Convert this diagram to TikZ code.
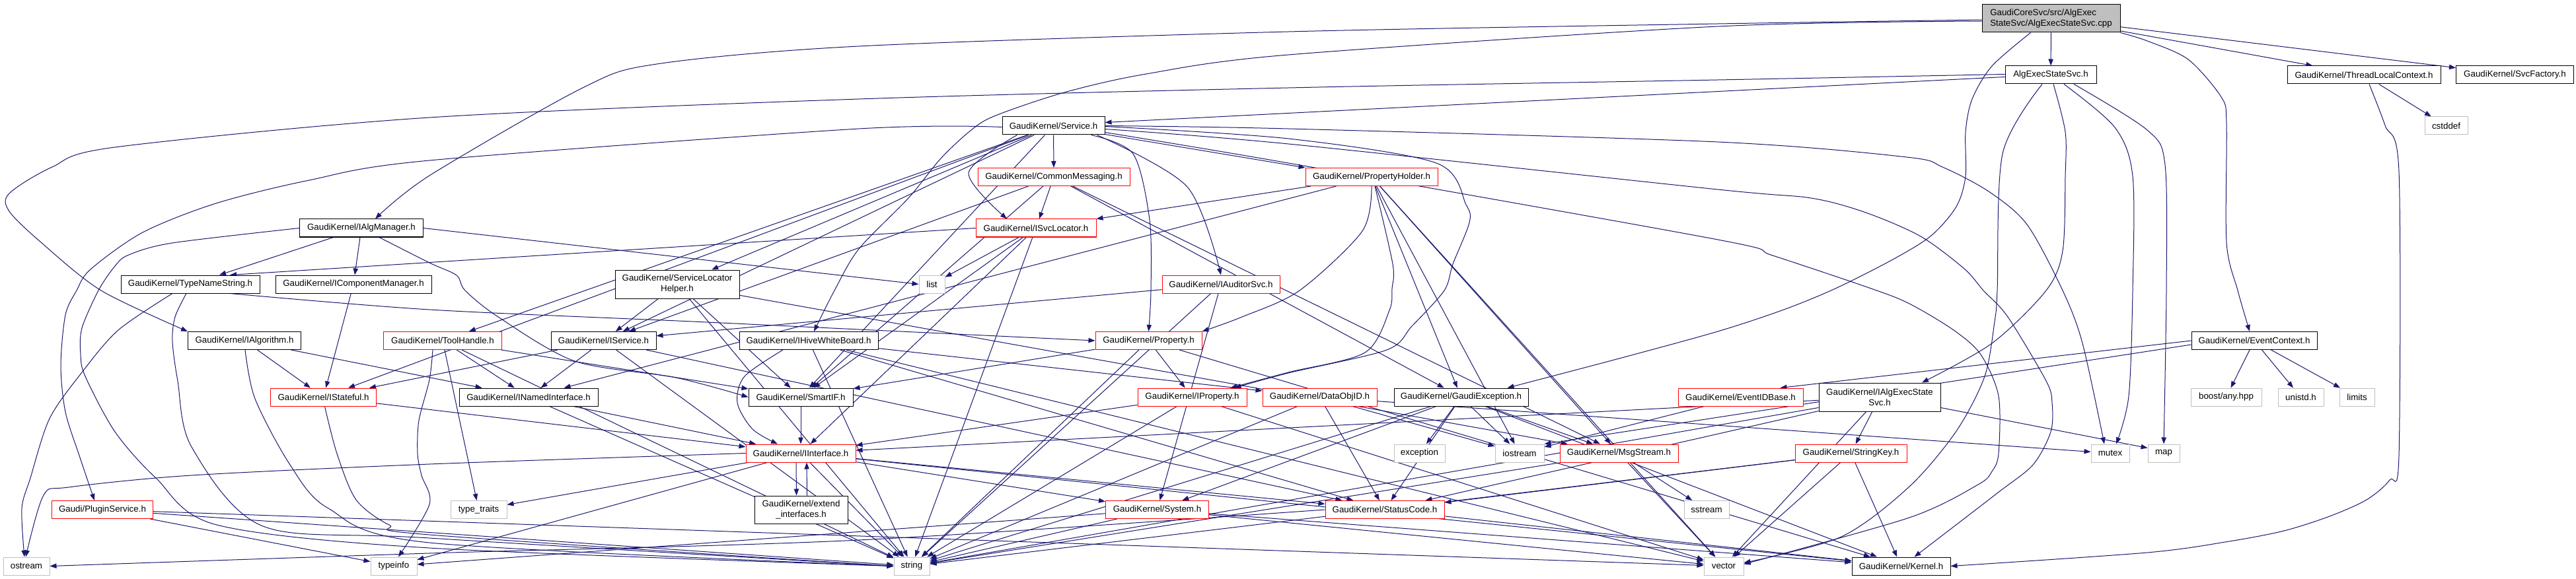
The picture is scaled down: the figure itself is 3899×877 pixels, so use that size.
\documentclass[tikz,border=0pt]{standalone}
\usepackage{fontspec}
\setmainfont{Liberation Sans}
\usetikzlibrary{arrows.meta}
\definecolor{edgec}{HTML}{191970}
\definecolor{grayb}{HTML}{BFBFBF}
\pgfdeclarelayer{bg}
\pgfsetlayers{bg,main}
\begin{document}
\begin{tikzpicture}[x=0.75pt,y=-0.75pt,
  base/.style={draw, line width=0.75pt, fill=white, inner sep=0pt, minimum height=20.25pt, font=\fontsize{10}{12}\selectfont, text=black},
  w/.style={minimum width=#1*0.75pt},
  tall/.style={minimum height=#1*0.75pt},
  blk/.style={base, draw=black},
  redb/.style={base, draw=red},
  gry/.style={base, draw=grayb},
  rootb/.style={base, draw=black, fill=grayb},
  e/.style={draw=edgec, line width=0.75pt, -{Triangle[length=7.5pt,width=5.5pt]}},
]
\useasboundingbox (0,0) rectangle (3899,877);
% nodes
\node[rootb,w=209,tall=42,align=left] (root) at (3104.5,28) {GaudiCoreSvc/src/AlgExec\\StateSvc/AlgExecStateSvc.cpp};
\node[blk,w=138] (aesh) at (3104,113.5) {AlgExecStateSvc.h};
\node[blk,w=232] (tlc) at (3578,113.5) {GaudiKernel/ThreadLocalContext.h};
\node[blk,w=178] (svcf) at (3806.5,113.5) {GaudiKernel/SvcFactory.h};
\node[gry,w=65] (cstddef) at (3702.5,190.5) {cstddef};
\node[blk,w=155] (svc) at (1594.5,190.5) {GaudiKernel/Service.h};
\node[redb,w=230] (cmsg) at (1595,268) {GaudiKernel/CommonMessaging.h};
\node[redb,w=200] (ph) at (2076,268) {GaudiKernel/PropertyHolder.h};
\node[redb,w=182] (isl) at (1568,345.5) {GaudiKernel/ISvcLocator.h};
\node[gry,w=39] (list) at (1410.5,430.5) {list};
\node[redb,w=178] (iaud) at (1848,430.5) {GaudiKernel/IAuditorSvc.h};
\node[blk,w=187] (ialm) at (547,345.5) {GaudiKernel/IAlgManager.h};
\node[blk,w=210] (tns) at (288,430.5) {GaudiKernel/TypeNameString.h};
\node[blk,w=236] (icm) at (535,430.5) {GaudiKernel/IComponentManager.h};
\node[blk,w=188,tall=43,align=center] (slh) at (1025,430.5) {GaudiKernel/ServiceLocator\\Helper.h};
\node[blk,w=171] (ialg) at (370,516) {GaudiKernel/IAlgorithm.h};
\node[redb,w=179] (th) at (670,516) {GaudiKernel/ToolHandle.h};
\node[blk,w=159] (isv) at (913.5,516) {GaudiKernel/IService.h};
\node[blk,w=210] (ihwb) at (1224,516) {GaudiKernel/IHiveWhiteBoard.h};
\node[redb,w=161] (prop) at (1738.5,516) {GaudiKernel/Property.h};
\node[redb,w=160] (ist) at (489.5,601.5) {GaudiKernel/IStateful.h};
\node[blk,w=210] (ini) at (800,601.5) {GaudiKernel/INamedInterface.h};
\node[blk,w=158] (sif) at (1212,601.5) {GaudiKernel/SmartIF.h};
\node[redb,w=165] (iprop) at (1804.5,601.5) {GaudiKernel/IProperty.h};
\node[redb,w=173] (doi) at (1997.5,601.5) {GaudiKernel/DataObjID.h};
\node[blk,w=203] (gex) at (2211.5,601.5) {GaudiKernel/GaudiException.h};
\node[redb,w=189] (eib) at (2634.5,601.5) {GaudiKernel/EventIDBase.h};
\node[blk,w=184,tall=43,align=center] (iaes) at (2845,601.5) {GaudiKernel/IAlgExecState\\Svc.h};
\node[blk,w=190] (ec) at (3412,516) {GaudiKernel/EventContext.h};
\node[gry,w=107] (boost) at (3369.5,601.5) {boost/any.hpp};
\node[gry,w=69] (unistd) at (3482.5,601.5) {unistd.h};
\node[gry,w=53] (limits) at (3567.5,601.5) {limits};
\node[gry,w=48] (map) at (3275,686.5) {map};
\node[gry,w=58] (mutex) at (3194,686.5) {mutex};
\node[redb,w=169] (sk) at (2801.5,686.5) {GaudiKernel/StringKey.h};
\node[redb,w=179] (ms) at (2450.5,686.5) {GaudiKernel/MsgStream.h};
\node[gry,w=74] (iostream) at (2300,686.5) {iostream};
\node[gry,w=77] (exc) at (2148.5,686.5) {exception};
\node[redb,w=166] (ii) at (1212,686.5) {GaudiKernel/IInterface.h};
\node[gry,w=85] (tt) at (724.5,772) {type\_traits};
\node[blk,w=141,tall=42,align=center] (ei) at (1212.5,772) {GaudiKernel/extend\\\_interfaces.h};
\node[redb,w=153] (ps) at (155,772) {Gaudi/PluginService.h};
\node[redb,w=156] (sys) at (1751.5,772) {GaudiKernel/System.h};
\node[redb,w=180] (sc) at (2096,772) {GaudiKernel/StatusCode.h};
\node[gry,w=68] (sstream) at (2583,772) {sstream};
\node[gry,w=70] (ostream) at (40,857.5) {ostream};
\node[gry,w=70] (typeinfo) at (596,857.5) {typeinfo};
\node[gry,w=54] (string) at (1380,857.5) {string};
\node[gry,w=60] (vector) at (2609,857.5) {vector};
\node[blk,w=149] (kernel) at (2877.5,857.5) {GaudiKernel/Kernel.h};

\begin{pgfonlayer}{bg}
\fill[white] (0,0) rectangle (3899,877);
% root
\draw[e] (root) -- (aesh);
\draw[e] (root) -- (tlc);
\draw[e] (root) -- (svcf);
\draw[e] plot[smooth] coordinates {(root.south east) (3250,62) (3312,90) (3362,147) (3370,187) (3370,367) (3387,440) ([shift={(-7,0)}]ec.north)};
\draw[e] plot[smooth] coordinates {([shift={(-31,0)}]root.south) (3015,100) (2985,150) (2975,200) (2975,267) (2961,313) (2923,357) (2865,393) (2778,437) (2700,469) (2600,502) (2447,544) ([shift={(70,0)}]gex.north)};
\draw[e] plot[smooth] coordinates {([shift={(0,2)}]root.west) (2600,36) (1950,48) (1300,70) (994,97) (882,133) (650,266) ([shift={(21,0)}]ialm.north)};
\draw[e] plot[smooth] coordinates {([shift={(0,4)}]root.west) (2600,40) (1950,83) (1735,112) (1611,140) (1507,175) (1470,197) (1424,240) (1375,300) (1300,377) (1263,440) ([shift={(8,0)}]ihwb.north)};
% AlgExecStateSvc.h
\draw[e] ([shift={(0,3)}]aesh.west) -- ([shift={(0,-5)}]svc.east);
\draw[e] plot[smooth] coordinates {([shift={(0,-1)}]aesh.west) (2600,121) (1950,133) (1300,150) (650,178) (174,223) (79,253) (14,293) (14,320) (62,367) (153,440) (ialg.north west)};
\draw[e] plot[smooth] coordinates {([shift={(4,0)}]aesh.south) (3126,200) (3126,267) (3122,380) (3097,440) (3015,520) ([shift={(64,0)}]iaes.north)};
\draw[e] plot[smooth] coordinates {([shift={(20,0)}]aesh.south) (3201,193) (3228,267) (3228,440) (3222,600) ([shift={(9,0)}]mutex.north)};
\draw[e] plot[smooth] coordinates {([shift={(35,0)}]aesh.south) (3250,197) (3277,250) (3279,440) (map.north)};
\draw[e] plot[smooth] coordinates {([shift={(-13,0)}]aesh.south) (3031,233) (3023,440) (3019,487) (3004,570) (2961,653) (2890,737) (2787,813) ([shift={(0,-5)}]vector.east)};
% ThreadLocalContext.h
\draw[e] (tlc) -- (cstddef);
\draw[e] plot[smooth] coordinates {([shift={(8,0)}]tlc.south) (3610,190) (3631,260) (3631,690) (3617,727) (3582,757) (3526,782) (3457,804) (3374,820) (3250,837) (kernel.east)};
% EventContext.h
\draw[e] (ec) -- (boost);
\draw[e] (ec) -- (unistd);
\draw[e] (ec) -- (limits);
\draw[e] (ec.west) -- ([shift={(60,0)}]eib.north);
\draw[e] ([shift={(0,6)}]ec.west) -- (iostream.north east);
% IAlgExecStateSvc.h
\draw[e] (iaes) -- (sk);
\draw[e] ([shift={(0,16)}]iaes.east) -- ([shift={(0,-8)}]map.west);
\draw[e] (iaes) -- (ii);
\draw[e] (iaes) -- (sc);
\draw[e] (iaes) -- (string);
\draw[e] (iaes) -- (vector);
% StringKey.h
\draw[e] (sk) -- (kernel);
\draw[e] (sk) -- (vector);
\draw[e] (sk) -- (string);
\draw[e] (sk) -- (sc);
% MsgStream.h
\draw[e] (ms) -- (string);
\draw[e] (ms) -- (vector);
\draw[e] (ms) -- (sstream);
% GaudiException.h
\draw[e] (gex) -- (sc);
\draw[e] (gex) -- (exc);
\draw[e] (gex) -- (iostream);
\draw[e] (gex) -- (ms);
\draw[e] (gex) -- (kernel);
\draw[e] (gex) -- (sys);
\draw[e] (gex) -- (string);
% DataObjID.h
\draw[e] (doi) -- (sc);
\draw[e] (doi) -- (iostream);
\draw[e] (doi) -- (string);
\draw[e] (doi) -- (mutex);
% EventIDBase.h
\draw[e] (eib) -- (iostream);
% IProperty.h
\draw[e] (iprop) -- (ii);
\draw[e] (iprop) -- (string);
\draw[e] (iprop) -- (vector);
% Property.h
\draw[e] (prop) -- (iprop);
\draw[e] (prop) -- (sif);
\draw[e] (prop) -- (kernel);
\draw[e] (prop) -- (string);
% ISvcLocator.h
\draw[e] (isl.west) -- ([shift={(60,0)}]tns.north);
\draw[e] (isl) -- (list);
\draw[e] (isl) -- (sif);
\draw[e] (isl) -- (ii);
\draw[e] (isl) -- (string);
% Service.h
\draw[e] (svc) -- (cmsg);
\draw[e] plot[smooth] coordinates {([shift={(-55,0)}]svc.south) (1466,262) ([shift={(-44,0)}]isl.north)};
\draw[e] plot[smooth] coordinates {([shift={(57,0)}]svc.south) (1715,233) (1740,333) (1742,440) (prop.north)};
\draw[e] plot[smooth] coordinates {([shift={(66,0)}]svc.south) (1797,283) (iaud.north)};
\draw[e] (svc) -- (ph.north west);
\draw[e] plot[smooth] coordinates {(svc.east) (1950,195) (2600,215) (2886,238) (2940,253) (3010,290) (3068,340) (3122,440) (3152,520) ([shift={(-9,0)}]mutex.north)};
\draw[e] plot[smooth] coordinates {([shift={(0,10)}]svc.east) (1950,247) (2600,363) (2683,387) (2832,437) (2890,460) (2957,500) (2998,537) (3025,600) (3025,687) (3015,714) (2994,734) (2890,784) ([shift={(0,-3)}]vector.east)};
\draw[e] plot[smooth] coordinates {([shift={(0,5)}]svc.east) (1950,218) (2600,287) (2741,300) (2824,322) (2907,358) (2973,407) (3002,440) (3039,480) (3097,577) (3106,610) (3104,654) (3077,704) (3023,747) ([shift={(20,0)}]kernel.north)};
\draw[e] plot[smooth] coordinates {([shift={(0,1)}]svc.east) (1950,210) (2174,247) (2219,310) (2224,337) (2199,400) (2186,440) (2137,494) (2099,530) (1950,565) ([shift={(64,0)}]iprop.north)};
\draw[e] plot[smooth] coordinates {([shift={(0,2)}]svc.west) (1300,195) (650,243) (468,273) (327,308) (216,352) (137,408) (116,440) (99,477) (92,554) (99,624) (120,690) ([shift={(-12,0)}]ps.north)};
\draw[e] (svc) -- (isv);
\draw[e] (svc) -- (slh);
\draw[e] (svc) -- (ist);
\draw[e] (svc) -- (sif);
\draw[e] (svc) -- (th);
% CommonMessaging.h
\draw[e] (cmsg) -- (isl);
\draw[e] (cmsg) -- (isv);
\draw[e] (cmsg) -- (sif);
\draw[e] (cmsg) -- (gex);
\draw[e] (cmsg) -- (ms);
% PropertyHolder.h
\draw[e] (ph) -- (isl.north east);
\draw[e] (ph) -- (ini);
\draw[e] plot[smooth] coordinates {(ph.south) (2062,350) (1967,440) (1880,480) (prop.north east)};
\draw[e] plot[smooth] coordinates {([shift={(5,0)}]ph.south) (2108,400) (2107,437) (2103,470) (2066,534) (1950,564) ([shift={(58,0)}]iprop.north)};
\draw[e] (ph) -- (gex);
\draw[e] (ph) -- (ms);
\draw[e] (ph) -- (iostream);
\draw[e] (ph) -- (vector);
% IAuditorSvc.h
\draw[e] (iaud) -- (isv);
\draw[e] (iaud) -- (string);
\draw[e] (iaud) -- (sys);
% ServiceLocatorHelper.h
\draw[e] (slh) -- (isv);
\draw[e] (slh) -- (sif);
\draw[e] (slh) -- (ms);
\draw[e] (slh) -- (string);
% IService.h
\draw[e] (isv) -- (ist);
\draw[e] (isv) -- (ini);
\draw[e] (isv) -- (sc);
\draw[e] (isv) -- (string);
% INamedInterface.h
\draw[e] (ini) -- (ii);
\draw[e] (ini) -- (string);
% SmartIF.h
\draw[e] (sif) -- (ii);
% IInterface.h
\draw[e] ([shift={(-7,0)}]ii.south) -- ([shift={(-7,0)}]ei.north);
\draw[e] ([shift={(9,0)}]ei.north) -- ([shift={(9,0)}]ii.south);
\draw[e] plot[smooth] coordinates {(ii.west) (650,703) (290,720) (104,738) (66,750) ([shift={(-1,0)}]ostream.north)};
\draw[e] (ii) -- (tt);
\draw[e] (ii) -- (typeinfo);
\draw[e] (ii) -- (string);
\draw[e] (ii) -- (sc);
\draw[e] (ii) -- (sys);
\draw[e] (ii) -- (kernel);
% System.h
\draw[e] (sys) -- (typeinfo);
\draw[e] (sys) -- (string);
\draw[e] (sys) -- (vector);
\draw[e] (sys) -- (kernel);
% StatusCode.h
\draw[e] plot[smooth] coordinates {(sc.west) (1300,818) (650,838) (ostream.east)};
\draw[e] (sc) -- (kernel);
% PluginService.h
\draw[e] (ps) -- (typeinfo);
\draw[e] (ps) -- (string);
\draw[e] (ps) -- (vector);
% IAlgManager.h
\draw[e] (ialm) -- ([shift={(44,0)}]tns.north);
\draw[e] (ialm) -- (icm);
\draw[e] plot[smooth] coordinates {([shift={(27,0)}]ialm.south) (650,398) (691,417) (704,440) (754,480) (870,547) (1023,572) (sif.west)};
\draw[e] (ialm.east) -- (list.west);
\draw[e] plot[smooth] coordinates {(ialm.west) (261,368) (195,386) (174,403) (149,440) (124,497) (122,537) (129,570) (174,654) (236,724) (328,795) (650,830) (string.west)};
% IComponentManager.h
\draw[e] (icm) -- (ist);
% IStateful.h
\draw[e] (ist) -- (ii);
\draw[e] plot[smooth] coordinates {([shift={(2,0)}]ist.south) (510,687) (539,757) (589,795) (650,810) (string.west)};
% IAlgorithm.h
\draw[e] (ialg) -- (ini);
\draw[e] (ialg) -- (ist);
\draw[e] plot[smooth] coordinates {([shift={(1,0)}]ialg.south) (386,604) (439,704) (497,770) (650,822) (string.west)};
% ToolHandle.h
\draw[e] (th) -- (ini);
\draw[e] (th) -- (tt);
\draw[e] (th) -- (sif);
\draw[e] plot[smooth] coordinates {([shift={(-15,0)}]th.south) (650,575) (634,637) (632,687) (638,720) (650,764) ([shift={(7,0)}]typeinfo.north)};
\draw[e] (th) -- (string);
% IHiveWhiteBoard.h
\draw[e] plot[smooth] coordinates {([shift={(-39,0)}]ihwb.south) (1127,570) (1116,610) (1139,650) ([shift={(-35,0)}]ii.north)};
\draw[e] (ihwb) -- (doi);
\draw[e] (ihwb) -- (sc);
\draw[e] (ihwb) -- (string);
\draw[e] (ihwb) -- (vector);
% TypeNameString.h
\draw[e] plot[smooth] coordinates {([shift={(-27,0)}]tns.south) (179,500) (124,564) (75,634) (46,724) (33,770) ([shift={(-3,0)}]ostream.north)};
\draw[e] plot[smooth] coordinates {([shift={(-6,0)}]tns.south) (265,480) (261,517) (269,577) (290,677) (398,797) (650,815) (string.west)};
\draw[e] plot[smooth] coordinates {([shift={(60,0)}]tns.south) (650,469) (1048,487) (1300,499) (prop.west)};
\end{pgfonlayer}
\end{tikzpicture}
\end{document}
